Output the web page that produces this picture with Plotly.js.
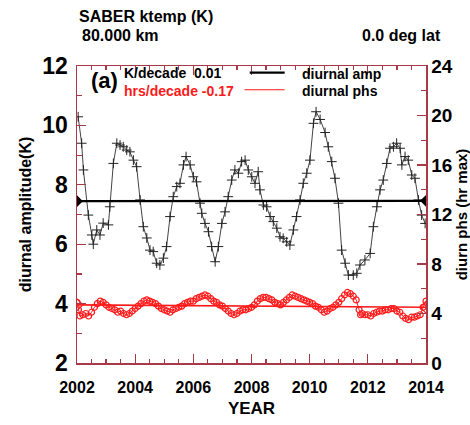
<!DOCTYPE html>
<html>
<head>
<meta charset="utf-8">
<script src="https://cdn.plot.ly/plotly-3.0.1.min.js"></script>
<style>html,body{margin:0;padding:0;background:#fff;}#chart{width:470px;height:425px;}</style>
</head>
<body>
<div id="chart"></div>
<script>
// diurnal amplitude (K), left axis
const ampYears = [2002.04,2002.16,2002.22,2002.39,2002.51,2002.56,2002.68,2002.79,2002.90,2003.08,2003.13,2003.25,2003.37,2003.48,2003.59,2003.71,2003.82,2003.94,2004.05,2004.17,2004.28,2004.40,2004.51,2004.62,2004.74,2004.85,2004.97,2005.08,2005.20,2005.31,2005.43,2005.54,2005.66,2005.75,2005.89,2006.00,2006.11,2006.23,2006.29,2006.40,2006.52,2006.63,2006.75,2006.86,2006.98,2007.09,2007.20,2007.32,2007.43,2007.55,2007.66,2007.78,2007.89,2008.01,2008.12,2008.23,2008.29,2008.41,2008.52,2008.64,2008.75,2008.87,2008.98,2009.09,2009.21,2009.32,2009.44,2009.55,2009.67,2009.78,2009.90,2010.01,2010.13,2010.22,2010.36,2010.53,2010.64,2010.76,2010.87,2010.99,2011.10,2011.22,2011.33,2011.50,2011.62,2011.73,2011.90,2012.08,2012.19,2012.31,2012.42,2012.53,2012.65,2012.76,2012.88,2012.99,2013.11,2013.17,2013.28,2013.39,2013.51,2013.62,2013.74,2013.85,2013.97];
const ampValues = [10.29,9.40,8.50,6.98,6.31,6.00,6.48,6.31,6.71,6.65,7.26,8.72,9.40,9.34,9.28,9.17,9.11,8.83,8.61,7.49,6.59,6.21,5.80,5.75,5.36,5.30,5.53,5.92,6.93,7.60,7.94,8.05,8.67,8.95,8.67,8.27,8.10,7.38,7.04,6.70,6.42,5.92,5.41,5.92,6.70,7.09,7.60,8.16,8.50,8.39,8.78,8.83,8.50,8.27,8.05,8.44,7.83,7.32,7.26,6.93,6.76,6.54,6.25,6.20,6.08,5.97,6.48,6.93,7.49,8.05,8.39,8.83,10.07,10.46,10.20,9.76,9.28,8.78,8.22,7.38,5.80,5.36,4.96,4.96,5.02,5.30,5.47,5.69,6.59,7.26,7.83,8.16,8.72,9.23,9.28,9.40,9.23,8.67,8.95,8.83,8.33,8.22,7.49,6.98,6.70];

// diurnal phase (hr of max), right axis
const phsYears = [2002.0,2002.05,2002.1,2002.2,2002.3,2002.4,2002.5,2002.6,2002.7,2002.8,2002.9,2003.0,2003.1,2003.2,2003.3,2003.4,2003.5,2003.6,2003.7,2003.8,2003.9,2004.0,2004.1,2004.2,2004.3,2004.4,2004.5,2004.6,2004.7,2004.8,2004.9,2005.0,2005.1,2005.2,2005.3,2005.4,2005.5,2005.6,2005.7,2005.8,2005.9,2006.0,2006.1,2006.2,2006.3,2006.4,2006.5,2006.6,2006.7,2006.8,2006.9,2007.0,2007.1,2007.2,2007.3,2007.4,2007.5,2007.6,2007.7,2007.8,2007.9,2008.0,2008.1,2008.2,2008.3,2008.4,2008.5,2008.6,2008.7,2008.8,2008.9,2009.0,2009.1,2009.2,2009.3,2009.4,2009.5,2009.6,2009.7,2009.8,2009.9,2010.0,2010.1,2010.2,2010.3,2010.4,2010.5,2010.6,2010.7,2010.8,2010.9,2011.0,2011.1,2011.2,2011.3,2011.4,2011.5,2011.6,2011.7,2011.75,2011.8,2011.9,2012.0,2012.1,2012.2,2012.3,2012.4,2012.5,2012.6,2012.7,2012.8,2012.9,2013.0,2013.1,2013.2,2013.3,2013.4,2013.5,2013.6,2013.7,2013.8,2013.9,2014.0];
const phsValues = [4.9,4.3,3.8,3.9,4.0,3.8,4.1,4.5,4.8,5.0,4.9,4.7,4.5,4.4,4.3,4.1,4.2,4.0,3.9,4.0,4.2,4.4,4.6,4.8,5.0,5.1,5.0,4.9,4.8,4.6,4.4,4.3,4.2,4.1,4.3,4.4,4.5,4.6,4.8,4.9,5.0,5.0,5.2,5.3,5.4,5.5,5.4,5.2,5.0,4.9,4.7,4.6,4.4,4.2,4.0,3.9,4.0,4.2,4.3,4.3,4.4,4.5,4.7,5.0,5.2,5.3,5.3,5.2,5.1,4.9,4.8,4.7,4.9,5.1,5.3,5.5,5.4,5.3,5.2,5.1,5.0,4.9,4.8,4.6,4.5,4.3,4.1,4.2,4.4,4.5,4.7,4.9,5.2,5.5,5.7,5.6,5.4,5.1,4.3,3.9,4.0,3.9,3.9,3.8,4.0,4.1,4.2,4.2,4.3,4.3,4.4,4.4,4.2,4.1,3.8,3.6,3.5,3.7,3.7,3.8,3.9,4.5,5.0];

// linear trends
const trendYears = [2002, 2014];
const ampTrend = [7.45, 7.46];
const phsTrend = [4.7, 4.5];

const ampTrendLabel = 'K/decade  0.01';
const phsTrendLabel = 'hrs/decade -0.17';

const FONT = 'Liberation Sans, Arial, Helvetica, sans-serif';
const FRAME = '#a83a48';
const RED = '#ff1a1a';

const traces = [
  {x: ampYears, y: ampValues, type: 'scatter', mode: 'lines+markers',
   line: {color: '#444', width: 1},
   marker: {symbol: 'cross-thin', size: 7, line: {color: '#222', width: 1}},
   yaxis: 'y', hoverinfo: 'skip'},
  {x: trendYears, y: ampTrend, type: 'scatter', mode: 'lines+markers',
   line: {color: '#000', width: 2.2},
   marker: {symbol: 'diamond', size: 9, color: '#000'},
   yaxis: 'y', cliponaxis: true, hoverinfo: 'skip'},
  {x: phsYears, y: phsValues, type: 'scatter', mode: 'lines+markers',
   line: {color: RED, width: 1},
   marker: {symbol: 'circle-open', size: 6, color: RED, line: {color: RED, width: 1.2}},
   yaxis: 'y2', hoverinfo: 'skip'},
  {x: trendYears, y: phsTrend, type: 'scatter', mode: 'lines+markers',
   line: {color: RED, width: 1.6},
   marker: {symbol: 'diamond-open', size: 9, color: RED, line: {color: RED, width: 1.2}},
   yaxis: 'y2', cliponaxis: true, hoverinfo: 'skip'}
];

const layout = {
  width: 470, height: 425,
  margin: {l: 77, r: 44, t: 66, b: 62},
  paper_bgcolor: '#fff', plot_bgcolor: '#fff',
  showlegend: false,
  font: {family: FONT, color: '#000'},
  xaxis: {
    range: [2002, 2014], tick0: 2002, dtick: 2,
    showgrid: false, zeroline: false,
    showline: true, linecolor: FRAME, linewidth: 1.5, mirror: 'ticks',
    ticks: 'inside', ticklen: 9, tickcolor: FRAME, tickwidth: 1.2,
    minor: {dtick: 0.5, ticks: 'inside', ticklen: 4, tickcolor: FRAME, showgrid: false},
    tickfont: {size: 16, weight: 'bold', family: FONT},
    ticklabelstandoff: 9,
    title: {text: 'YEAR', font: {size: 17, weight: 'bold', family: FONT}, standoff: 7}
  },
  yaxis: {
    range: [2, 12], tick0: 2, dtick: 2,
    showgrid: false, zeroline: false,
    showline: true, linecolor: FRAME, linewidth: 1.5,
    ticks: 'inside', ticklen: 9, tickcolor: FRAME, tickwidth: 1.2,
    minor: {dtick: 1, ticks: 'inside', ticklen: 5, tickcolor: FRAME, showgrid: false},
    tickfont: {size: 23, weight: 'bold', family: FONT},
    ticklabelstandoff: 3,
    title: {text: 'diurnal amplitude(K)', font: {size: 16, weight: 'bold', family: FONT}, standoff: 6}
  },
  yaxis2: {
    range: [0, 24], tick0: 0, dtick: 4, overlaying: 'y', side: 'right',
    showgrid: false, zeroline: false,
    showline: true, linecolor: FRAME, linewidth: 1.5,
    ticks: 'inside', ticklen: 9, tickcolor: FRAME, tickwidth: 1.2,
    minor: {dtick: 2, ticks: 'inside', ticklen: 5, tickcolor: FRAME, showgrid: false},
    tickfont: {size: 19, weight: 'bold', family: FONT},
    title: {text: 'diurn phs (hr max)', font: {size: 15, weight: 'bold', family: FONT}, standoff: 4}
  },
  annotations: [
    {xref: 'paper', yref: 'paper', x: 0, y: 1, yshift: 50, xanchor: 'left', yanchor: 'middle',
     text: 'SABER ktemp (K)', showarrow: false, font: {size: 16, weight: 'bold', family: FONT}},
    {xref: 'paper', yref: 'paper', x: 0.01, y: 1, yshift: 31, xanchor: 'left', yanchor: 'middle',
     text: '80.000 km', showarrow: false, font: {size: 16, weight: 'bold', family: FONT}},
    {xref: 'paper', yref: 'paper', x: 1.05, y: 1, yshift: 31, xanchor: 'right', yanchor: 'middle',
     text: '0.0 deg lat', showarrow: false, font: {size: 16, weight: 'bold', family: FONT}},
    {xref: 'paper', yref: 'paper', x: 0.035, y: 1, yshift: -14, xanchor: 'left', yanchor: 'middle',
     text: '(a)', showarrow: false, font: {size: 22, weight: 'bold', family: FONT}},
    {xref: 'paper', yref: 'paper', x: 0.128, y: 1, yshift: -7, xanchor: 'left', yanchor: 'middle',
     text: ampTrendLabel, showarrow: false, font: {size: 14, weight: 'bold', family: FONT, color: '#000'}},
    {xref: 'paper', yref: 'paper', x: 0.128, y: 1, yshift: -25, xanchor: 'left', yanchor: 'middle',
     text: phsTrendLabel, showarrow: false, font: {size: 14, weight: 'bold', family: FONT, color: RED}},
    {xref: 'paper', yref: 'paper', x: 0.64, y: 1, yshift: -8, xanchor: 'left', yanchor: 'middle',
     text: 'diurnal amp', showarrow: false, font: {size: 14, weight: 'bold', family: FONT}},
    {xref: 'paper', yref: 'paper', x: 0.64, y: 1, yshift: -25, xanchor: 'left', yanchor: 'middle',
     text: 'diurnal phs', showarrow: false, font: {size: 14, weight: 'bold', family: FONT}}
  ],
  shapes: [
    {type: 'line', xref: 'paper', yref: 'paper', x0: 0.495, x1: 0.595, y0: 0.978, y1: 0.978,
     line: {color: '#000', width: 2.2}},
    {type: 'line', xref: 'paper', yref: 'paper', x0: 0.48, x1: 0.595, y0: 0.92, y1: 0.92,
     line: {color: RED, width: 1}}
  ]
};

Plotly.newPlot('chart', traces, layout, {staticPlot: true, displayModeBar: false});
</script>
</body>
</html>
